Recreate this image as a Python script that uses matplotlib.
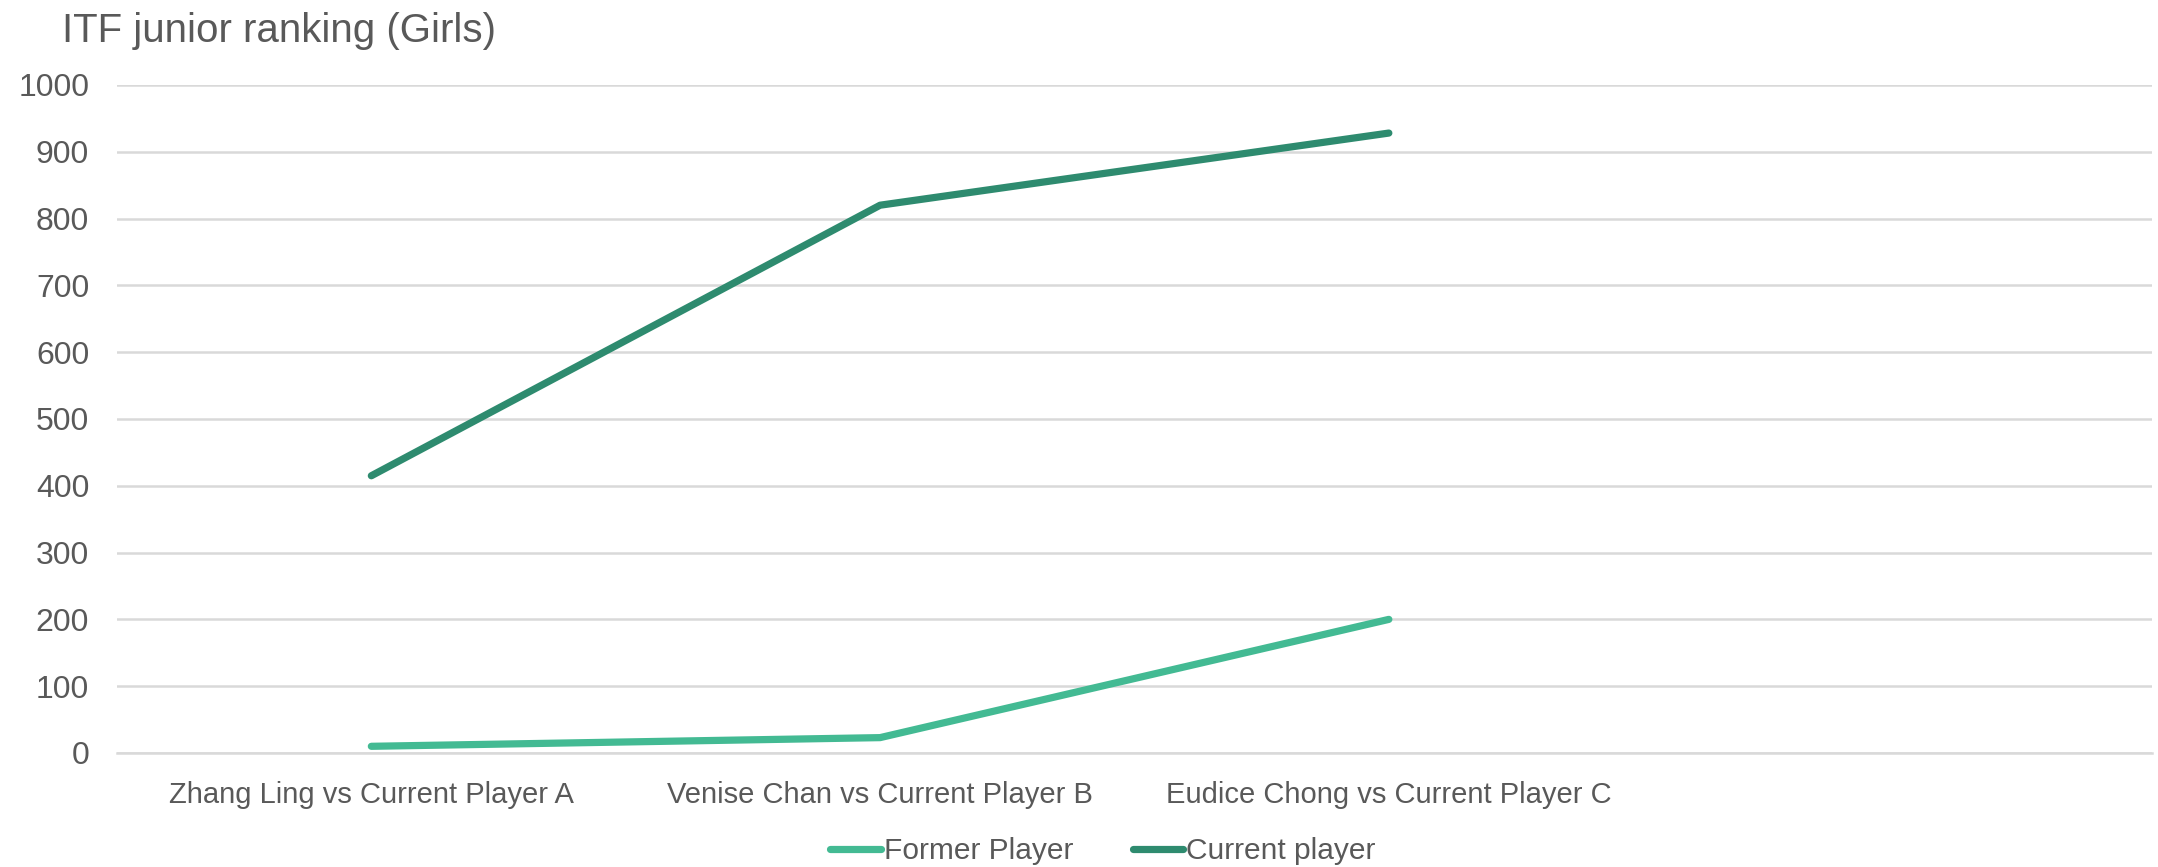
import matplotlib.pyplot as plt
import numpy as np

# data
categories = [
    "Zhang Ling vs Current Player A",
    "Venise Chan vs Current Player B",
    "Eudice Chong vs Current Player C",
    "",
]
former_player = [10, 23, 200, np.nan]
current_player = [415, 820, 928, np.nan]
y_ticks = list(range(0, 1001, 100))

FORMER = "#43BA93"
CURRENT = "#2E8B6F"
TEXT = "#595959"
GRID = "#D9D9D9"

plt.rcParams.update({
    "font.family": ["Liberation Sans Narrow", "Liberation Sans", "DejaVu Sans"],
    "font.size": 21,
})

fig = plt.figure(figsize=(21.58, 8.67), dpi=100)
ax = fig.add_axes([0.0542, 0.1315, 0.943, 0.7705])

x = np.arange(len(categories))
ax.plot(x, former_player, color=FORMER, lw=5.2, solid_capstyle="round", label="Former Player")
ax.plot(x, current_player, color=CURRENT, lw=5.2, solid_capstyle="round", label="Current player")

ax.set_xlim(-0.5, len(categories) - 0.5)
ax.set_ylim(0, 1000)
ax.set_yticks(y_ticks)
ax.set_xticks(x)
ax.set_xticklabels(categories)
ax.grid(axis="y", color=GRID, lw=1.8)
ax.set_axisbelow(True)
for s in ax.spines.values():
    s.set_visible(False)
ax.spines["bottom"].set_visible(True)
ax.spines["bottom"].set_color(GRID)
ax.spines["bottom"].set_linewidth(1.8)
ax.tick_params(axis="both", length=0, colors=TEXT)
ax.tick_params(axis="x", labelsize=21, pad=20)
ax.tick_params(axis="y", labelsize=23, pad=20)

fig.text(62 / 2158, 1 - 31 / 867, "ITF junior ranking (Girls)", fontsize=29,
         color=TEXT, va="center", ha="left")

leg = fig.legend(loc="center", bbox_to_anchor=(0.511, 16 / 867), ncol=2, frameon=False,
                 handlelength=1.7, handletextpad=0.1, columnspacing=2.0, fontsize=21.5)
for t in leg.get_texts():
    t.set_color(TEXT)

fig.savefig("out.png", dpi=100)
